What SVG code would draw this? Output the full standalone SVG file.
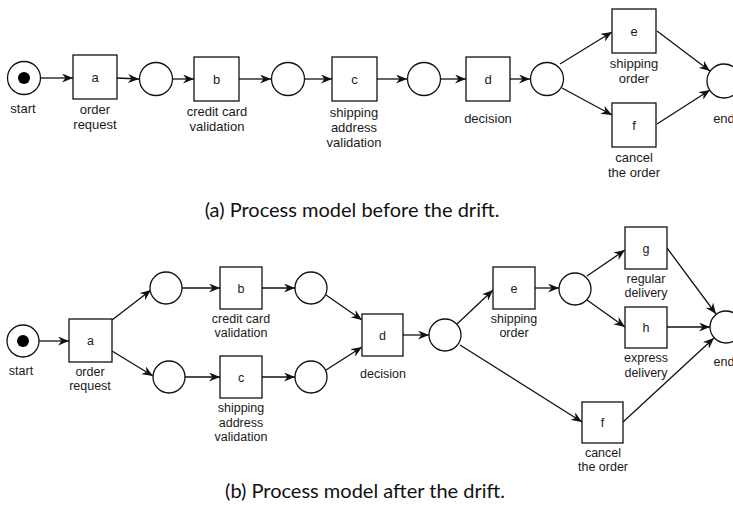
<svg xmlns="http://www.w3.org/2000/svg" width="733" height="516" viewBox="0 0 733 516">
<style>
.t{fill:#fff;stroke:#111;stroke-width:1.3}
.p{fill:#fff;stroke:#111;stroke-width:1.3}
.c{fill:none;stroke:#111;stroke-width:1.3;marker-end:url(#arr)}
text{font-family:"Liberation Sans",Arial,sans-serif;fill:#1a1a1a;text-anchor:middle}
.l1{font-size:13px}
.l2{font-size:12.5px}
.cap{font-family:Lato,"Open Sans",sans-serif;font-size:20px;fill:#111}
</style>
<defs>
<marker id="arr" markerUnits="userSpaceOnUse" viewBox="0 0 11 9" refX="11" refY="4.5" markerWidth="11" markerHeight="9" orient="auto">
<path d="M0,0 L11,4.5 L0,9 L3.5,4.5 Z" fill="#111"/>
</marker>
</defs>
<rect width="733" height="516" fill="#fff"/>

<!-- ===== (a) before drift ===== -->
<g id="a-connectors">
<line class="c" x1="41" y1="78" x2="73" y2="78"/>
<line class="c" x1="117" y1="78" x2="139" y2="79"/>
<line class="c" x1="173" y1="79" x2="194" y2="79"/>
<line class="c" x1="239" y1="79" x2="271" y2="79"/>
<line class="c" x1="305" y1="79" x2="332" y2="79"/>
<line class="c" x1="377" y1="79" x2="407" y2="79"/>
<line class="c" x1="441" y1="79" x2="466" y2="79"/>
<line class="c" x1="510" y1="79" x2="530" y2="79"/>
<line class="c" x1="560" y1="64" x2="612" y2="32"/>
<line class="c" x1="562" y1="88" x2="612" y2="115"/>
<line class="c" x1="657" y1="31" x2="710" y2="71"/>
<line class="c" x1="657" y1="124" x2="710" y2="90"/>
</g>
<g id="a-start"><circle class="p" cx="24" cy="78" r="16.5"/><circle cx="24" cy="78" r="6" fill="#000"/><text class="l1" x="23" y="113">start</text></g>
<g id="a-ta"><rect class="t" x="73" y="55" width="44" height="44"/><text class="l1" x="95" y="81.5">a</text><text class="l1" x="95" y="113.5">order</text><text class="l1" x="95" y="128.5">request</text></g>
<g id="a-p1"><circle class="p" cx="156" cy="79" r="16.5"/></g>
<g id="a-tb"><rect class="t" x="194" y="57" width="45" height="44"/><text class="l1" x="216.5" y="83.5">b</text><text class="l1" x="217" y="115.5">credit card</text><text class="l1" x="217" y="130.5">validation</text></g>
<g id="a-p2"><circle class="p" cx="288" cy="79" r="16.5"/></g>
<g id="a-tc"><rect class="t" x="332" y="57" width="45" height="44"/><text class="l1" x="354.5" y="83.5">c</text><text class="l1" x="354" y="116.5">shipping</text><text class="l1" x="354" y="131.5">address</text><text class="l1" x="354" y="146.5">validation</text></g>
<g id="a-p3"><circle class="p" cx="424" cy="79" r="16.5"/></g>
<g id="a-td"><rect class="t" x="466" y="57" width="44" height="44"/><text class="l1" x="488" y="83.5">d</text><text class="l1" x="488" y="122.5">decision</text></g>
<g id="a-p4"><circle class="p" cx="547" cy="79" r="16.5"/></g>
<g id="a-te"><rect class="t" x="612" y="9" width="44" height="44"/><text class="l1" x="634" y="35.5">e</text><text class="l1" x="634" y="67.5">shipping</text><text class="l1" x="634" y="82.5">order</text></g>
<g id="a-tf"><rect class="t" x="612" y="103" width="44" height="44"/><text class="l1" x="634" y="129.5">f</text><text class="l1" x="634" y="161.5">cancel</text><text class="l1" x="634" y="176.5">the order</text></g>
<g id="a-end"><circle class="p" cx="724" cy="81" r="17"/><text class="l1" x="724" y="123">end</text></g>
<text class="cap" x="352" y="217">(a) Process model before the drift.</text>

<!-- ===== (b) after drift ===== -->
<g id="b-connectors">
<line class="c" x1="39" y1="341" x2="69" y2="341"/>
<line class="c" x1="112" y1="320" x2="151" y2="290"/>
<line class="c" x1="112" y1="351" x2="153" y2="376"/>
<line class="c" x1="182" y1="288" x2="220" y2="288"/>
<line class="c" x1="185" y1="377" x2="220" y2="377"/>
<line class="c" x1="262" y1="288" x2="295" y2="288"/>
<line class="c" x1="262" y1="377" x2="295" y2="377"/>
<line class="c" x1="326" y1="295" x2="362" y2="320"/>
<line class="c" x1="326" y1="370" x2="362" y2="347"/>
<line class="c" x1="403" y1="335" x2="429" y2="335"/>
<line class="c" x1="457" y1="324" x2="493" y2="290"/>
<line class="c" x1="460" y1="345" x2="582" y2="422"/>
<line class="c" x1="535" y1="288" x2="559" y2="288"/>
<line class="c" x1="587" y1="276" x2="625" y2="250"/>
<line class="c" x1="587" y1="300" x2="625" y2="327"/>
<line class="c" x1="667" y1="248" x2="716" y2="314"/>
<line class="c" x1="667" y1="327" x2="710" y2="327"/>
<line class="c" x1="623" y1="422" x2="714" y2="338"/>
</g>
<g id="b-start"><circle class="p" cx="23" cy="341" r="16"/><circle cx="23" cy="341" r="6" fill="#000"/><text class="l2" x="21" y="375">start</text></g>
<g id="b-ta"><rect class="t" x="69" y="319" width="43" height="43"/><text class="l2" x="90.5" y="345">a</text><text class="l2" x="90" y="375.5">order</text><text class="l2" x="90" y="389.5">request</text></g>
<g id="b-p1"><circle class="p" cx="166" cy="288" r="16"/></g>
<g id="b-p2"><circle class="p" cx="169" cy="377" r="16"/></g>
<g id="b-tb"><rect class="t" x="220" y="267" width="42" height="42"/><text class="l2" x="241" y="292.5">b</text><text class="l2" x="241" y="322.5">credit card</text><text class="l2" x="241" y="336.5">validation</text></g>
<g id="b-tc"><rect class="t" x="220" y="356" width="42" height="42"/><text class="l2" x="241" y="381.5">c</text><text class="l2" x="241" y="412">shipping</text><text class="l2" x="241" y="426.5">address</text><text class="l2" x="241" y="441">validation</text></g>
<g id="b-p3"><circle class="p" cx="311" cy="288" r="16"/></g>
<g id="b-p4"><circle class="p" cx="311" cy="377" r="16"/></g>
<g id="b-td"><rect class="t" x="362" y="314" width="41" height="42"/><text class="l2" x="382.5" y="339.5">d</text><text class="l2" x="383" y="378">decision</text></g>
<g id="b-p5"><circle class="p" cx="445" cy="335" r="16"/></g>
<g id="b-te"><rect class="t" x="493" y="267" width="42" height="42"/><text class="l2" x="514" y="292.5">e</text><text class="l2" x="514" y="323">shipping</text><text class="l2" x="514" y="337">order</text></g>
<g id="b-p6"><circle class="p" cx="575" cy="289" r="16"/></g>
<g id="b-tg"><rect class="t" x="625" y="227" width="42" height="42"/><text class="l2" x="646" y="252.5">g</text><text class="l2" x="646" y="282.5">regular</text><text class="l2" x="646" y="297">delivery</text></g>
<g id="b-th"><rect class="t" x="625" y="307" width="42" height="41"/><text class="l2" x="646" y="332">h</text><text class="l2" x="646" y="362">express</text><text class="l2" x="646" y="376.5">delivery</text></g>
<g id="b-tf"><rect class="t" x="582" y="402" width="41" height="41"/><text class="l2" x="602.5" y="427">f</text><text class="l2" x="603" y="456.5">cancel</text><text class="l2" x="603" y="471">the order</text></g>
<g id="b-end"><circle class="p" cx="726" cy="327" r="16"/><text class="l2" x="724" y="366">end</text></g>
<text class="cap" x="365" y="498">(b) Process model after the drift.</text>
</svg>
